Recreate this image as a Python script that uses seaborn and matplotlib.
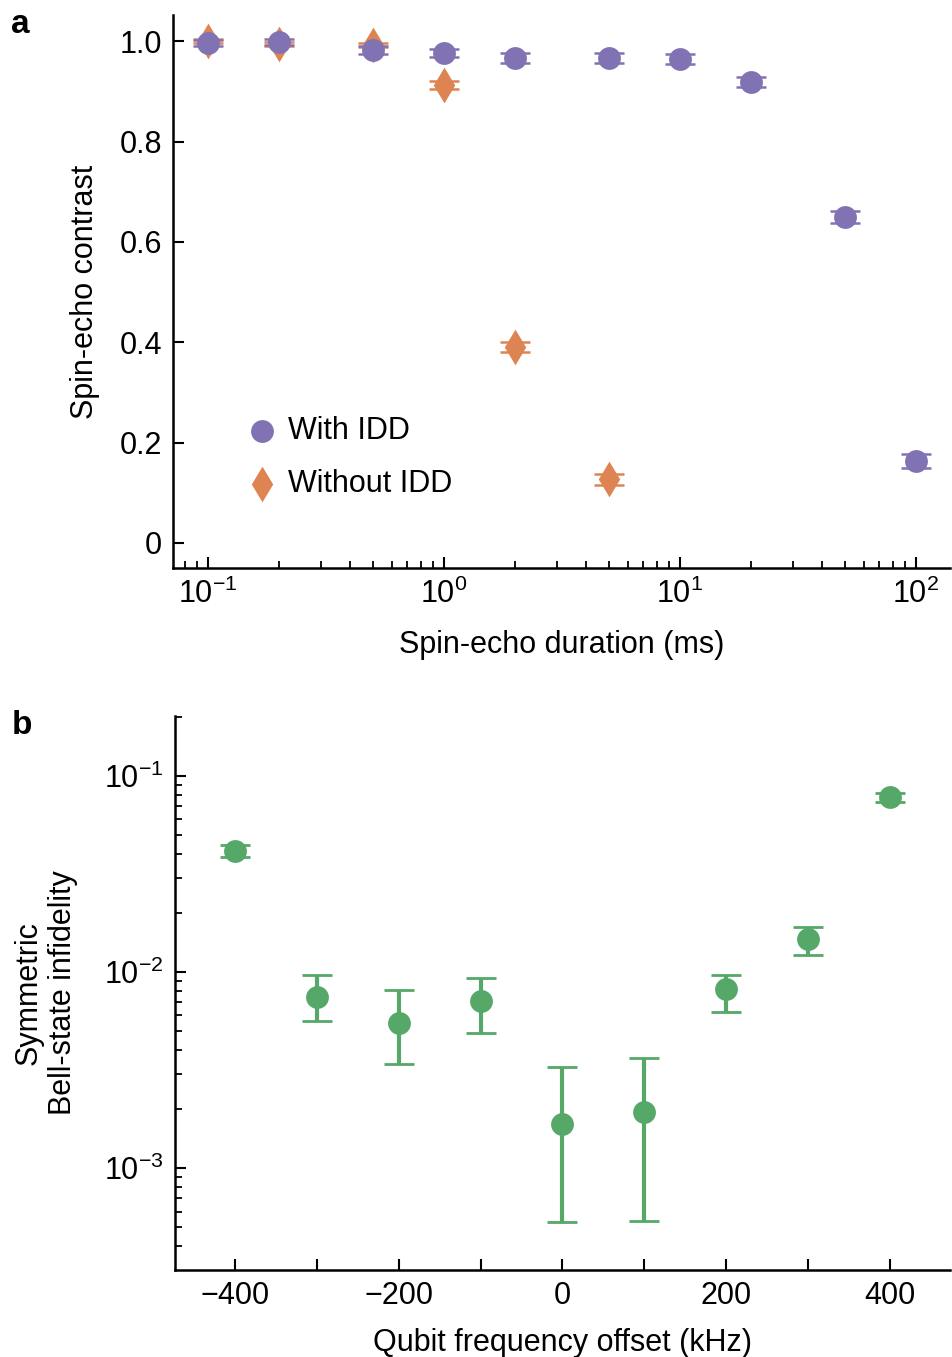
import numpy as np
import pandas as pd
import matplotlib
matplotlib.use('Agg')
import matplotlib.pyplot as plt
from matplotlib.ticker import FixedLocator, FixedFormatter, LogLocator, NullFormatter, MultipleLocator
import seaborn as sns

# panel a: spin-echo contrast vs duration
dur_idd = [0.1, 0.2, 0.5, 1, 2, 5, 10, 20, 50, 100]
contrast_idd = [0.996, 0.998, 0.982, 0.976, 0.966, 0.966, 0.964, 0.918, 0.649, 0.163]
err_idd = [0.006, 0.006, 0.008, 0.008, 0.010, 0.010, 0.010, 0.010, 0.012, 0.014]

dur_no = [0.1, 0.2, 0.5, 1, 2, 5]
contrast_no = [1.0, 0.994, 0.993, 0.912, 0.390, 0.127]
err_no = [0.004, 0.004, 0.004, 0.008, 0.010, 0.011]

# panel b: infidelity vs qubit frequency offset
offset = [-400, -300, -200, -100, 0, 100, 200, 300, 400]
infid = [0.0414, 0.00745, 0.0055, 0.00711, 0.00168, 0.00193, 0.00819, 0.0147, 0.0782]
infid_hi = [0.0445, 0.00966, 0.00809, 0.00932, 0.00327, 0.00364, 0.0097, 0.0170, 0.0818]
infid_lo = [0.0386, 0.00562, 0.0034, 0.00489, 0.00053, 0.00054, 0.00625, 0.0122, 0.0737]

a_yticks = [0, 0.2, 0.4, 0.6, 0.8, 1.0]
a_yticklabels = ['0', '0.2', '0.4', '0.6', '0.8', '1.0']

sns.set_theme(style='ticks')
plt.rcParams['font.family'] = ['Liberation Sans', 'DejaVu Sans']
plt.rcParams['mathtext.default'] = 'regular'
plt.rcParams['axes.unicode_minus'] = True
for k in ('text.color', 'axes.labelcolor', 'xtick.color', 'ytick.color', 'axes.edgecolor'):
    plt.rcParams[k] = 'black'

pal = sns.color_palette('deep')
purple, orange, green = pal[4], pal[1], pal[2]

fs = 22
fig = plt.figure(figsize=(9.53, 13.57), dpi=100)
ax_a = fig.add_axes([0.1815, 0.5814, 0.8153, 0.4075])
ax_b = fig.add_axes([0.1836, 0.0641, 0.8132, 0.4083])

df_idd = pd.DataFrame({'dur': dur_idd, 'contrast': contrast_idd, 'err': err_idd})
df_no = pd.DataFrame({'dur': dur_no, 'contrast': contrast_no, 'err': err_no})

ax_a.errorbar(df_no['dur'], df_no['contrast'], yerr=df_no['err'], fmt='none',
              ecolor=orange, elinewidth=2, capsize=11, capthick=1.8, zorder=2)
ax_a.errorbar(df_idd['dur'], df_idd['contrast'], yerr=df_idd['err'], fmt='none',
              ecolor=purple, elinewidth=2, capsize=11, capthick=1.8, zorder=2)
sns.scatterplot(data=df_no, x='dur', y='contrast', ax=ax_a, marker='d', s=330,
                color=orange, linewidth=0, label='Without IDD', zorder=3)
sns.scatterplot(data=df_idd, x='dur', y='contrast', ax=ax_a, marker='o', s=270,
                color=purple, linewidth=0, label='With IDD', zorder=4)

ax_a.set_xscale('log')
ax_a.set_xlim(0.0711, 139.4)
ax_a.set_ylim(-0.05, 1.052)
ax_a.yaxis.set_major_locator(FixedLocator(a_yticks))
ax_a.yaxis.set_major_formatter(FixedFormatter(a_yticklabels))
ax_a.xaxis.set_major_locator(LogLocator(base=10, numticks=10))
ax_a.xaxis.set_minor_locator(LogLocator(base=10, subs=np.arange(2, 10), numticks=10))
ax_a.xaxis.set_minor_formatter(NullFormatter())
ax_a.set_xlabel('Spin-echo duration (ms)', fontsize=fs, labelpad=14)
ax_a.set_ylabel('Spin-echo contrast', fontsize=fs, labelpad=14)

handles, labels = ax_a.get_legend_handles_labels()
ax_a.legend(handles[::-1], labels[::-1], loc='lower left', bbox_to_anchor=(0.06, 0.075),
            frameon=False, fontsize=fs, handlelength=1.0, handletextpad=0.35,
            labelspacing=0.75, markerscale=1.0)

df_b = pd.DataFrame({'offset': offset, 'infid': infid, 'hi': infid_hi, 'lo': infid_lo})
yerr = np.vstack([df_b['infid'] - df_b['lo'], df_b['hi'] - df_b['infid']])
ax_b.errorbar(df_b['offset'], df_b['infid'], yerr=yerr, fmt='none', ecolor=green,
              elinewidth=3, capsize=11, capthick=2, zorder=2)
sns.scatterplot(data=df_b, x='offset', y='infid', ax=ax_b, marker='o', s=270,
                color=green, linewidth=0, zorder=3, legend=False)
ax_b.set_yscale('log')
ax_b.set_ylim(3.02e-4, 0.202)
ax_b.set_xlim(-473, 473)
ax_b.xaxis.set_major_locator(FixedLocator([-400, -200, 0, 200, 400]))
ax_b.xaxis.set_minor_locator(MultipleLocator(100))
ax_b.yaxis.set_major_locator(LogLocator(base=10, numticks=10))
ax_b.yaxis.set_minor_locator(LogLocator(base=10, subs=np.arange(2, 10), numticks=10))
ax_b.yaxis.set_minor_formatter(NullFormatter())
ax_b.set_xlabel('Qubit frequency offset (kHz)', fontsize=fs, labelpad=12)
ax_b.set_ylabel('Symmetric\nBell-state infidelity', fontsize=fs, labelpad=19)

for ax in (ax_a, ax_b):
    sns.despine(ax=ax)
    for s in ('left', 'bottom'):
        ax.spines[s].set_linewidth(1.8)
    ax.tick_params(which='major', direction='in', length=8, width=1.5,
                   labelsize=fs, pad=8)
    ax.tick_params(which='minor', direction='in', length=5, width=1.3)

ax_b.tick_params(axis='x', which='minor', length=8, width=1.5)

fig.text(0.012, 0.993, 'a', fontsize=24, fontweight='bold', va='top')
fig.text(0.012, 0.477, 'b', fontsize=24, fontweight='bold', va='top')

fig.savefig('out.png', dpi=100)
